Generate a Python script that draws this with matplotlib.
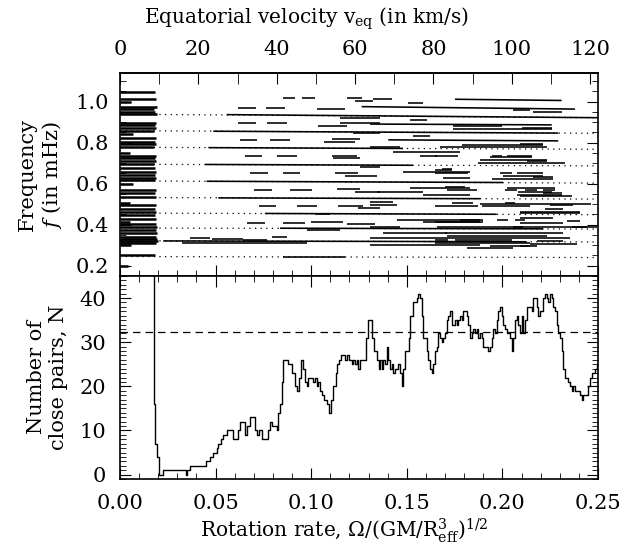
import matplotlib
matplotlib.use("Agg")
import matplotlib.pyplot as plt
from matplotlib.ticker import MultipleLocator, FixedLocator

# rotation rate -> equatorial velocity (km/s)
v_factor = 488.0
v_ticks = [0, 20, 40, 60, 80, 100, 120]
v_minor = [10, 30, 50, 70, 90, 110]

# left bundle of modes (start at zero rotation)
bundle_f = [1.049, 1.013, 0.997, 0.976, 0.964, 0.951, 0.939, 0.898, 0.887, 0.870,
            0.859, 0.841, 0.822, 0.805, 0.793, 0.779, 0.749, 0.737, 0.724, 0.711,
            0.695, 0.679, 0.656, 0.643, 0.630, 0.617, 0.601, 0.570, 0.554, 0.537,
            0.505, 0.494, 0.478, 0.464, 0.448, 0.429, 0.413, 0.403, 0.389, 0.375,
            0.362, 0.338, 0.330, 0.322, 0.311, 0.302, 0.254, 0.200]
bundle_end = [0.0185, 0.019, 0.006, 0.0195, 0.018, 0.0185, 0.0195, 0.019, 0.0185, 0.019,
              0.018, 0.007, 0.019, 0.0185, 0.019, 0.018, 0.005, 0.019, 0.0185, 0.019,
              0.018, 0.0185, 0.019, 0.0185, 0.019, 0.0185, 0.007, 0.019, 0.0185, 0.019,
              0.005, 0.019, 0.0185, 0.019, 0.0185, 0.019, 0.005, 0.019, 0.0195, 0.019,
              0.0195, 0.019, 0.0195, 0.020, 0.019, 0.006, 0.0185, 0.004]

# long tracks (r0, r1, f0, f1)
tracks = [
    (0.0558, 0.2500, 0.937, 0.922),
    (0.0488, 0.2292, 0.856, 0.847),
    (0.0462, 0.1480, 0.776, 0.772),
    (0.0445, 0.1532, 0.694, 0.690),
    (0.0453, 0.2003, 0.612, 0.606),
    (0.0514, 0.1883, 0.531, 0.527),
    (0.0758, 0.1970, 0.455, 0.451),
    (0.0837, 0.2214, 0.383, 0.380),
    (0.0226, 0.2127, 0.321, 0.317),
    (0.0854, 0.1177, 0.243, 0.243),
    (0.1752, 0.2310, 1.012, 1.006),
    (0.1264, 0.2380, 0.976, 0.964),
    (0.1308, 0.2258, 0.891, 0.887),
    (0.1403, 0.2292, 0.814, 0.809),
]

# short dashes (r0, r1, f)
dashes = [
    (0.0851, 0.0915, 1.019), (0.0950, 0.1020, 1.019), (0.1186, 0.1264, 1.019),
    (0.1323, 0.1421, 1.012), (0.1229, 0.1323, 1.005), (0.1508, 0.1586, 0.995),
    (0.0619, 0.0711, 0.971), (0.0762, 0.0863, 0.971), (0.1029, 0.1177, 0.964),
    (0.2057, 0.2144, 0.960), (0.2162, 0.2310, 0.948),
    (0.1151, 0.1360, 0.919), (0.0619, 0.0710, 0.895), (0.0767, 0.0872, 0.895),
    (0.1151, 0.1360, 0.897), (0.1037, 0.1186, 0.883), (0.1517, 0.1604, 0.911),
    (0.1743, 0.1996, 0.882), (0.2101, 0.2258, 0.873), (0.1742, 0.2258, 0.866),
    (0.1220, 0.1360, 0.846), (0.1107, 0.1255, 0.817), (0.0628, 0.0718, 0.814),
    (0.0785, 0.0889, 0.814), (0.1067, 0.1229, 0.805), (0.1534, 0.1621, 0.833),
    (0.1787, 0.2214, 0.789), (0.2092, 0.2214, 0.793), (0.1308, 0.1464, 0.781),
    (0.1674, 0.2231, 0.781),
    (0.0654, 0.0744, 0.736), (0.0820, 0.0924, 0.736), (0.1110, 0.1238, 0.736),
    (0.1116, 0.1255, 0.724), (0.1430, 0.1778, 0.757), (0.1569, 0.1656, 0.736),
    (0.1647, 0.1769, 0.736), (0.1944, 0.1996, 0.736), (0.2022, 0.2153, 0.733),
    (0.1935, 0.2153, 0.729), (0.1883, 0.2232, 0.716), (0.2127, 0.2231, 0.711),
    (0.1874, 0.2327, 0.702),
    (0.1255, 0.1360, 0.684), (0.1124, 0.1246, 0.654), (0.0680, 0.0776, 0.651),
    (0.0854, 0.0941, 0.651), (0.1177, 0.1343, 0.640), (0.1683, 0.1735, 0.671),
    (0.1647, 0.1734, 0.667), (0.1480, 0.1831, 0.659), (0.1647, 0.1821, 0.651),
    (0.1987, 0.2048, 0.651), (0.2074, 0.2214, 0.651), (0.2162, 0.2266, 0.635),
    (0.1691, 0.1831, 0.627), (0.1944, 0.2266, 0.625), (0.2003, 0.2214, 0.638),
    (0.1133, 0.1255, 0.574), (0.0702, 0.0793, 0.567), (0.0889, 0.1003, 0.567),
    (0.1229, 0.1360, 0.562), (0.1517, 0.1831, 0.578), (0.1699, 0.1804, 0.586),
    (0.2023, 0.2275, 0.578), (0.1708, 0.1865, 0.570), (0.2013, 0.2074, 0.570),
    (0.2118, 0.2179, 0.570), (0.2214, 0.2275, 0.570), (0.1343, 0.1586, 0.562),
    (0.2083, 0.2258, 0.562), (0.2214, 0.2310, 0.554), (0.1586, 0.1831, 0.546),
    (0.2075, 0.2310, 0.546), (0.2092, 0.2362, 0.542),
    (0.1142, 0.1272, 0.492), (0.0729, 0.0816, 0.489), (0.0924, 0.1032, 0.489),
    (0.1246, 0.1360, 0.481), (0.1308, 0.1430, 0.513), (0.1308, 0.1447, 0.497),
    (0.1734, 0.1848, 0.505), (0.2013, 0.2065, 0.505), (0.1883, 0.2466, 0.503),
    (0.2249, 0.2371, 0.497), (0.1647, 0.1874, 0.489), (0.1892, 0.2144, 0.489),
    (0.2223, 0.2319, 0.478), (0.2092, 0.2406, 0.464), (0.2092, 0.2406, 0.455),
    (0.2092, 0.2266, 0.435), (0.1447, 0.1883, 0.424), (0.1778, 0.1900, 0.424),
    (0.1970, 0.2030, 0.424), (0.2065, 0.2118, 0.424), (0.2336, 0.2406, 0.419),
    (0.1020, 0.1098, 0.452), (0.0999, 0.1168, 0.413), (0.0663, 0.0758, 0.408),
    (0.0854, 0.0968, 0.408), (0.1186, 0.1334, 0.405), (0.1586, 0.1883, 0.411),
    (0.1647, 0.1900, 0.413), (0.2092, 0.2319, 0.408), (0.1308, 0.1464, 0.391),
    (0.1656, 0.2109, 0.391), (0.2057, 0.2441, 0.391), (0.2362, 0.2493, 0.391),
    (0.1377, 0.1709, 0.359), (0.1699, 0.1987, 0.359), (0.1987, 0.2319, 0.359),
    (0.1709, 0.2232, 0.343),
    (0.0976, 0.1151, 0.374), (0.0793, 0.0872, 0.340), (0.0366, 0.0471, 0.333),
    (0.0480, 0.0645, 0.330), (0.0645, 0.0767, 0.327), (0.1308, 0.2354, 0.335),
    (0.1752, 0.2048, 0.327), (0.1647, 0.1717, 0.327), (0.2179, 0.2319, 0.322),
    (0.0323, 0.0976, 0.311), (0.1647, 0.2144, 0.311), (0.2144, 0.2388, 0.306),
    (0.1308, 0.1883, 0.302), (0.1935, 0.2144, 0.294), (0.1813, 0.2057, 0.286),
    (0.2092, 0.2179, 0.294),
]

# dotted reference lines: frequency at rate 0 and at rate 0.25
dot_f0 = [0.939, 0.859, 0.778, 0.695, 0.614, 0.533, 0.457, 0.384, 0.322, 0.245]
dot_f1 = [0.922, 0.846, 0.768, 0.687, 0.603, 0.525, 0.449, 0.379, 0.316, 0.240]

# number of close pairs
rate = [0.0174, 0.0180, 0.0185, 0.0195, 0.0206, 0.0227, 0.0345, 0.0349, 0.0366, 0.0450,
        0.0471, 0.0488, 0.0506, 0.0514, 0.0526, 0.0540, 0.0558, 0.0593, 0.0601, 0.0619,
        0.0628, 0.0654, 0.0662, 0.0680, 0.0706, 0.0718, 0.0729, 0.0741, 0.0776, 0.0785,
        0.0793, 0.0820, 0.0828, 0.0837, 0.0846, 0.0854, 0.0880, 0.0898, 0.0915, 0.0927,
        0.0936, 0.0947, 0.0959, 0.0968, 0.0976, 0.0985, 0.1011, 0.1020, 0.1029, 0.1037,
        0.1046, 0.1055, 0.1067, 0.1081, 0.1095, 0.1102, 0.1116, 0.1130, 0.1137, 0.1147,
        0.1154, 0.1177, 0.1186, 0.1199, 0.1212, 0.1220, 0.1229, 0.1238, 0.1247, 0.1255,
        0.1273, 0.1285, 0.1299, 0.1316, 0.1329, 0.1334, 0.1343, 0.1352, 0.1360, 0.1369,
        0.1378, 0.1386, 0.1395, 0.1404, 0.1413, 0.1421, 0.1430, 0.1439, 0.1448, 0.1456,
        0.1465, 0.1474, 0.1482, 0.1491, 0.1500, 0.1509, 0.1517, 0.1535, 0.1552, 0.1561,
        0.1570, 0.1578, 0.1587, 0.1596, 0.1604, 0.1613, 0.1622, 0.1630, 0.1639, 0.1648,
        0.1657, 0.1665, 0.1674, 0.1683, 0.1691, 0.1700, 0.1709, 0.1717, 0.1726, 0.1735,
        0.1744, 0.1752, 0.1761, 0.1770, 0.1778, 0.1787, 0.1796, 0.1805, 0.1813, 0.1822,
        0.1831, 0.1839, 0.1848, 0.1857, 0.1865, 0.1874, 0.1883, 0.1892, 0.1900, 0.1918,
        0.1926, 0.1935, 0.1944, 0.1953, 0.1961, 0.1970, 0.1979, 0.1988, 0.1996, 0.2005,
        0.2014, 0.2023, 0.2031, 0.2040, 0.2049, 0.2058, 0.2066, 0.2075, 0.2084, 0.2092,
        0.2101, 0.2110, 0.2118, 0.2127, 0.2144, 0.2153, 0.2162, 0.2171, 0.2179, 0.2188,
        0.2197, 0.2206, 0.2214, 0.2223, 0.2232, 0.2240, 0.2249, 0.2258, 0.2267, 0.2275,
        0.2284, 0.2293, 0.2301, 0.2310, 0.2319, 0.2328, 0.2336, 0.2345, 0.2354, 0.2363,
        0.2371, 0.2380, 0.2389, 0.2397, 0.2406, 0.2415, 0.2423, 0.2432, 0.2441, 0.2450,
        0.2458, 0.2467, 0.2476, 0.2484, 0.2493, 0.2502]
npairs = [60, 16, 7, 4, 0, 1, 0, 1, 2, 3,
          4, 5, 6, 7, 8, 9, 10, 8, 8, 10,
          12, 9, 11, 13, 10, 9, 10, 8, 10, 12,
          11, 10, 14, 16, 21, 26, 25, 23, 20, 19,
          22, 26, 24, 21, 20, 22, 21, 22, 20, 21,
          19, 18, 17, 16, 14, 17, 20, 23, 25, 26,
          27, 26, 27, 26, 25, 26, 25, 26, 24, 26,
          26, 31, 35, 31, 28, 28, 26, 24, 26, 24,
          26, 25, 29, 26, 24, 25, 23, 24, 24, 25,
          23, 20, 24, 28, 28, 31, 36, 39, 40, 41,
          40, 36, 31, 31, 28, 26, 24, 23, 25, 28,
          29, 32, 31, 30, 31, 32, 35, 36, 37, 34,
          34, 35, 34, 35, 36, 35, 37, 37, 36, 34,
          31, 32, 33, 32, 33, 31, 32, 31, 29, 29,
          28, 29, 31, 33, 32, 35, 37, 38, 36, 34,
          33, 32, 32, 31, 28, 31, 35, 36, 34, 32,
          36, 32, 35, 38, 38, 37, 40, 40, 38, 36,
          37, 37, 40, 41, 40, 39, 41, 40, 38, 37,
          34, 32, 31, 28, 24, 22, 22, 21, 20, 19,
          20, 19, 19, 19, 18, 17, 18, 18, 18, 20,
          22, 23, 23, 24, 25, 26]
n_mean = 32.3

plt.rcParams['font.family'] = 'DejaVu Serif'
plt.rcParams['mathtext.fontset'] = 'dejavuserif'

fig = plt.figure(figsize=(6.36, 5.5), dpi=100)
ax1 = fig.add_axes([120 / 636, 1 - 276 / 550, 478 / 636, 203 / 550])
ax2 = fig.add_axes([120 / 636, 1 - 479 / 550, 478 / 636, 203 / 550])

# top panel
for f0, f1 in zip(dot_f0, dot_f1):
    ax1.plot([0, 0.25], [f0, f1], color='k', lw=0.9, ls=(0, (1, 3.5)))
for f, r1 in zip(bundle_f, bundle_end):
    ax1.plot([0, r1], [f, f], color='k', lw=1.8, solid_capstyle='butt')
for r0, r1, f0, f1 in tracks:
    ax1.plot([r0, r1], [f0, f1], color='k', lw=1.15, solid_capstyle='butt')
for r0, r1, f in dashes:
    ax1.plot([r0, r1], [f, f], color='k', lw=1.15, solid_capstyle='butt')

ax1.set_xlim(0, 0.25)
ax1.set_ylim(0.15, 1.14)
ax1.xaxis.set_major_locator(MultipleLocator(0.05))
ax1.xaxis.set_minor_locator(MultipleLocator(0.01))
ax1.yaxis.set_major_locator(MultipleLocator(0.2))
ax1.yaxis.set_minor_locator(MultipleLocator(0.05))
ax1.tick_params(which='both', direction='in', top=False, right=True, labelbottom=False,
                labelsize=15, pad=8)
ax1.tick_params(which='major', length=8)
ax1.tick_params(which='minor', length=4)
ax1.set_ylabel('Frequency\n$f$ (in mHz)', fontsize=15, labelpad=8)

sec = ax1.secondary_xaxis('top', functions=(lambda r: r * v_factor, lambda v: v / v_factor))
sec.xaxis.set_major_locator(FixedLocator(v_ticks))
sec.xaxis.set_minor_locator(FixedLocator(v_minor))
sec.tick_params(which='both', direction='in', labelsize=15, pad=10)
sec.tick_params(which='major', length=8)
sec.tick_params(which='minor', length=8)
sec.set_xlabel(r'Equatorial velocity v$_{\rm eq}$ (in km/s)', fontsize=14.5, labelpad=12,
               x=0.39)

# bottom panel
ax2.plot(rate, npairs, color='k', lw=1.0, drawstyle='steps-post')
ax2.axhline(n_mean, color='k', lw=0.9, ls=(0, (6, 4)))
ax2.set_xlim(0, 0.25)
ax2.set_ylim(-1, 45)
ax2.xaxis.set_major_locator(MultipleLocator(0.05))
ax2.xaxis.set_minor_locator(MultipleLocator(0.01))
ax2.yaxis.set_major_locator(MultipleLocator(10))
ax2.yaxis.set_minor_locator(MultipleLocator(1))
ax2.xaxis.set_major_formatter(plt.FormatStrFormatter('%.2f'))
ax2.tick_params(which='both', direction='in', top=True, right=True, labelsize=15, pad=10)
ax2.tick_params(axis='x', which='both', pad=11)
ax2.tick_params(which='major', length=8)
ax2.tick_params(which='minor', length=4)
ax2.set_ylabel('Number of\nclose pairs, N', fontsize=15, labelpad=8)
ax2.set_xlabel(r'Rotation rate, $\Omega$/(GM/R$^3_{\rm eff}$)$^{1/2}$', fontsize=14.5,
               labelpad=2, x=0.47)

for ax in (ax1, ax2):
    for s in ax.spines.values():
        s.set_linewidth(1.2)
sec.spines['top'].set_linewidth(1.2)

fig.savefig('out.png', dpi=100)
